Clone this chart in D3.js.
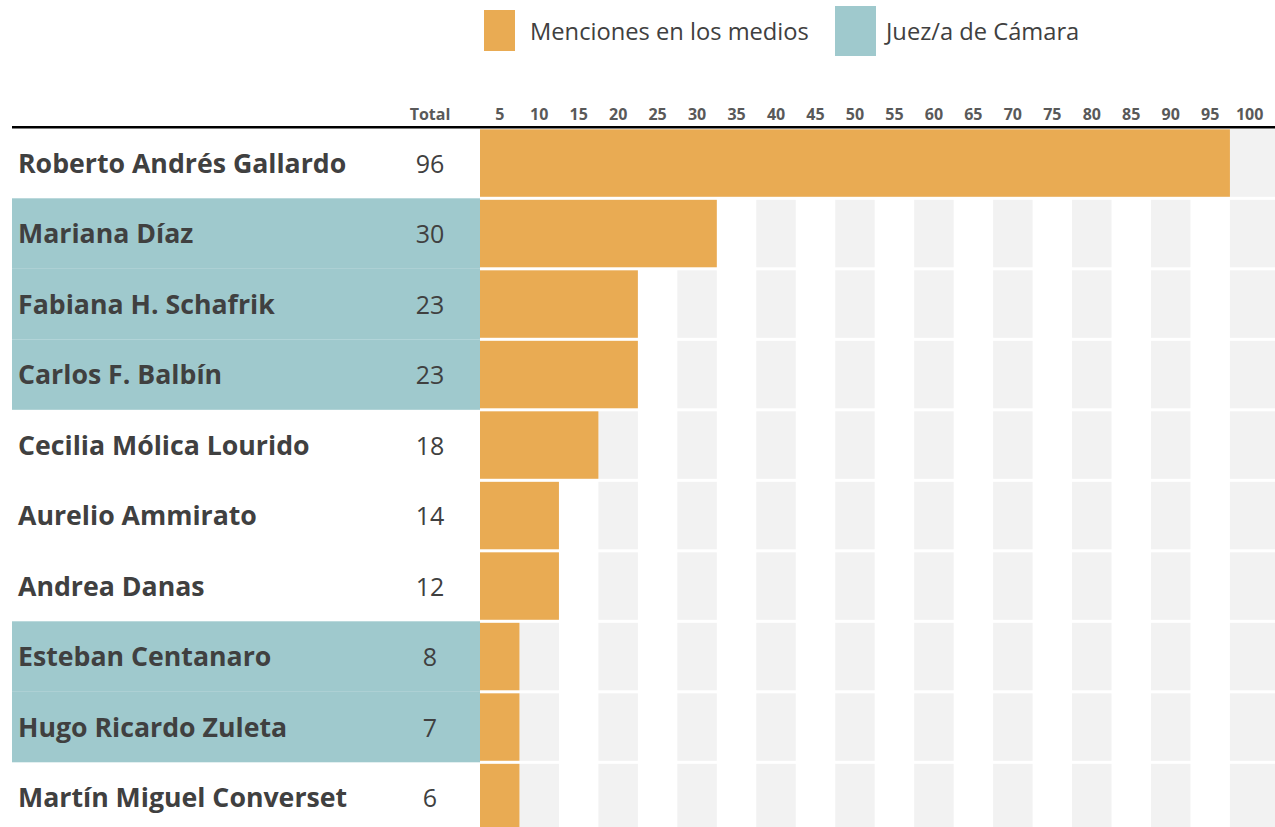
<!DOCTYPE html>
<html>
<head>
<meta charset="utf-8">
<script src="https://cdn.jsdelivr.net/npm/d3@7"></script>
<style>
  body { margin: 0; background: #fff; }
  svg { display: block; font-family: "Open Sans", "Noto Sans", sans-serif; }
</style>
</head>
<body>
<div id="chart"></div>
<script>
const names = [
  "Roberto Andrés Gallardo",
  "Mariana Díaz",
  "Fabiana H. Schafrik",
  "Carlos F. Balbín",
  "Cecilia Mólica Lourido",
  "Aurelio Ammirato",
  "Andrea Danas",
  "Esteban Centanaro",
  "Hugo Ricardo Zuleta",
  "Martín Miguel Converset"
];
const totals = [96, 30, 23, 23, 18, 14, 12, 8, 7, 6];
const isJudge = [false, true, true, true, false, false, false, true, true, false];
const columnTicks = [5, 10, 15, 20, 25, 30, 35, 40, 45, 50, 55, 60, 65, 70, 75, 80, 85, 90, 95, 100];
const legendLabels = ["Menciones en los medios", "Juez/a de Cámara"];

const COLOR_BAR = "#e9ab53";
const COLOR_JUDGE = "#9fc9cd";
const COLOR_CELL = "#f2f2f2";
const COLOR_TEXT = "#404040";
const COLOR_HEAD = "#595959";

const width = 1275, height = 827;
const svg = d3.select("#chart").append("svg")
  .attr("width", width).attr("height", height);

const rows = names.map((n, i) => ({
  name: n, total: totals[i], judge: isJudge[i], filled: Math.floor(totals[i] / 5)
}));

// rows
const y = d3.scaleBand()
  .domain(names)
  .range([127.8, 127.8 + 70.5 * names.length])
  .paddingInner(0.043)
  .paddingOuter(0.0215);

// columns: one per 5 mentions
const x = d3.scaleBand()
  .domain(columnTicks)
  .range([480, 480 + 39.47 * columnTicks.length]);

// judge background on the label side
svg.append("g").selectAll("rect")
  .data(rows.filter(d => d.judge))
  .join("rect")
  .attr("x", 12)
  .attr("y", d => y(d.name) - (y.step() - y.bandwidth()) / 2)
  .attr("width", 480 - 12)
  .attr("height", y.step())
  .attr("fill", COLOR_JUDGE);

// empty grey cells (every other column)
const cells = [];
rows.forEach(r => {
  columnTicks.forEach((t, j) => {
    if (j >= r.filled && j % 2 === 1) cells.push({ name: r.name, tick: t, last: j === columnTicks.length - 1 });
  });
});

svg.append("g").selectAll("rect")
  .data(cells)
  .join("rect")
  .attr("x", d => x(d.tick))
  .attr("y", d => y(d.name))
  .attr("width", d => d.last ? width - x(d.tick) : x.bandwidth())
  .attr("height", y.bandwidth())
  .attr("fill", COLOR_CELL);

// filled bars
svg.append("g").selectAll("rect")
  .data(rows)
  .join("rect")
  .attr("x", x(columnTicks[0]))
  .attr("y", d => y(d.name))
  .attr("width", d => x(columnTicks[d.filled - 1]) + x.bandwidth() - x(columnTicks[0]))
  .attr("height", y.bandwidth())
  .attr("fill", COLOR_BAR);

// names and totals
svg.append("g").selectAll("text")
  .data(rows)
  .join("text")
  .attr("x", 18)
  .attr("y", d => y(d.name) + y.bandwidth() / 2 + 9.5)
  .attr("fill", COLOR_TEXT)
  .attr("font-size", 26.7)
  .attr("font-weight", "bold")
  .text(d => d.name);

svg.append("g").selectAll("text")
  .data(rows)
  .join("text")
  .attr("x", 430)
  .attr("y", d => y(d.name) + y.bandwidth() / 2 + 9.5)
  .attr("fill", COLOR_TEXT)
  .attr("font-size", 25)
  .attr("text-anchor", "middle")
  .text(d => d.total);

// header
const header = svg.append("g");
header.append("text")
  .attr("x", 430).attr("y", 120)
  .attr("fill", COLOR_HEAD)
  .attr("font-size", 16).attr("font-weight", "bold")
  .attr("text-anchor", "middle")
  .text("Total");

header.selectAll(".tick-label")
  .data(columnTicks)
  .join("text")
  .attr("class", "tick-label")
  .attr("x", d => x(d) + x.bandwidth() / 2)
  .attr("y", 120)
  .attr("fill", COLOR_HEAD)
  .attr("font-size", 16).attr("font-weight", "bold")
  .attr("text-anchor", "middle")
  .text(d => d);

header.append("line")
  .attr("x1", 12).attr("x2", width)
  .attr("y1", 127.3).attr("y2", 127.3)
  .attr("stroke", "#000")
  .attr("stroke-width", 2.6);

// legend
const legend = svg.append("g");
legend.append("rect")
  .attr("x", 484).attr("y", 10).attr("width", 31).attr("height", 41)
  .attr("fill", COLOR_BAR);
legend.append("text")
  .attr("x", 530).attr("y", 40)
  .attr("fill", COLOR_TEXT).attr("font-size", 23.7)
  .text(legendLabels[0]);
legend.append("rect")
  .attr("x", 835).attr("y", 6).attr("width", 41).attr("height", 50)
  .attr("fill", COLOR_JUDGE);
legend.append("text")
  .attr("x", 886).attr("y", 40)
  .attr("fill", COLOR_TEXT).attr("font-size", 23.7)
  .text(legendLabels[1]);
</script>
</body>
</html>
